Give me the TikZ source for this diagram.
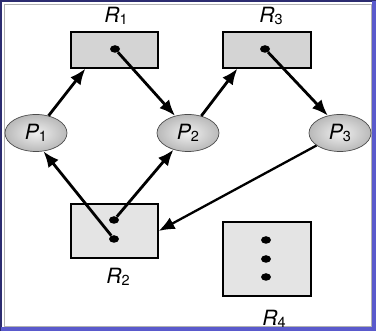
\documentclass[tikz,border=0pt]{standalone}
\usepackage{fontspec}
\setmainfont{TeX Gyre Heros}
\usetikzlibrary{shapes.geometric,arrows.meta,calc}
\definecolor{navy}{HTML}{2C2C70}
\definecolor{frameblue}{HTML}{5A5ACC}
\definecolor{boxdark}{HTML}{D4D4D4}
\definecolor{boxlight}{HTML}{E4E4E4}
\newcommand{\lab}[2]{{\fontsize{21}{23}\selectfont\itshape #1}\raisebox{-0.5ex}{\fontsize{14.5}{16}\selectfont #2}}
\begin{document}
\begin{tikzpicture}[x=1pt,y=-1pt,
  res/.style={draw=black,line width=1.2pt,inner sep=0pt},
  proc/.style={ellipse,draw=black!70,line width=0.7pt,inner sep=0pt,
    minimum width=62pt,minimum height=37pt,inner color=gray!12,outer color=gray!55},
  tok/.style={ellipse,fill=black,inner sep=0pt,minimum width=10pt,minimum height=7.5pt},
  arr/.style={line width=2.8pt,-{Latex[length=16pt,width=13pt]}},
  lbl/.style={inner sep=0pt}]
\useasboundingbox (0,0) rectangle (376,331);
\fill[white] (0,0) rectangle (376,331);
% frame
\draw[gray!60,line width=0.5pt] (4,4) rectangle (371,326);
\draw[navy,line width=2.5pt] (1.2,331) -- (1.2,1.2) -- (376,1.2);
\draw[frameblue,line width=3.5pt] (1,329.2) -- (374.2,329.2) -- (374.2,1);
% resources
\node[res,fill=boxdark,minimum width=87pt,minimum height=36pt] (R1) at (114.5,50) {};
\node[res,fill=boxdark,minimum width=88pt,minimum height=36pt] (R3) at (267,50) {};
\node[res,fill=boxlight,minimum width=87pt,minimum height=54pt] (R2) at (114.5,231) {};
\node[res,fill=boxlight,minimum width=88pt,minimum height=74pt] (R4) at (267,259) {};
\node[tok] (d1) at (115,49) {};
\node[tok] (d3) at (265,49) {};
\node[tok] (d2a) at (114,220) {};
\node[tok] (d2b) at (114,239) {};
\node[tok] (d4a) at (266,240) {};
\node[tok] (d4b) at (266,259) {};
\node[tok] (d4c) at (266,277) {};
% labels
\node[lbl] (L1) at (116,16) {\lab{R}{1}};
\node[lbl] (L3) at (271,16) {\lab{R}{3}};
\node[lbl] (L2) at (118,277) {\lab{R}{2}};
\node[lbl] (L4) at (274,319) {\lab{R}{4}};
% processes
\node[proc] (P1) at (36,133) {\lab{P}{1}};
\node[proc] (P2) at (188,133) {\lab{P}{2}};
\node[proc] (P3) at (340,133) {\lab{P}{3}};
% edges
\draw[arr] (P1.54) -- ($(R1.south west)+(15,0)$);
\draw[arr] (d1) -- (P2.127);
\draw[arr] (P2.52) -- ($(R3.south west)+(15,0)$);
\draw[arr] (d3) -- (P3.125);
\draw[arr,line width=2.3pt] (P3.208) -- (R2.east);
\draw[arr] (d2b) -- (P1.292);
\draw[arr] (d2a) -- (P2.229);
\end{tikzpicture}
\end{document}
